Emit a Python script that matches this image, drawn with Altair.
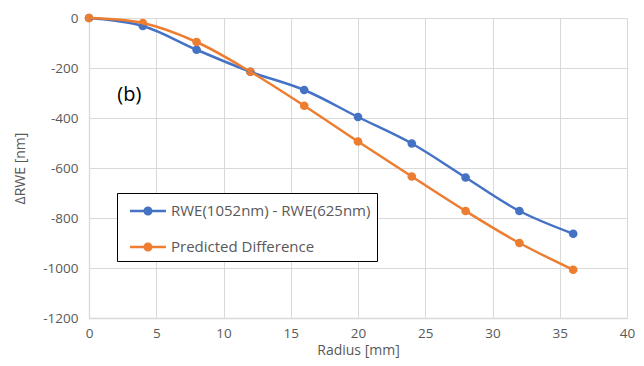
import altair as alt
import pandas as pd

radius = [0, 4, 8, 12, 16, 20, 24, 28, 32, 36]
measured = [0, -32, -127, -215, -288, -396, -502, -638, -772, -863]
predicted = [0, -20, -96, -215, -351, -494, -634, -772, -900, -1007]
series_names = ["RWE(1052nm) - RWE(625nm)", "Predicted Difference"]
colors = ["#4472C4", "#ED7D31"]

rows = []
for r, v in zip(radius, measured):
    rows.append({"Radius": r, "Value": v, "Series": series_names[0]})
for r, v in zip(radius, predicted):
    rows.append({"Radius": r, "Value": v, "Series": series_names[1]})
df = pd.DataFrame(rows)

label_df = pd.DataFrame({"x": [2.1], "y": [-307], "t": ["(b)"]})

FONT = "Open Sans"
GREY = "#595959"

xenc = alt.X("Radius:Q", scale=alt.Scale(domain=[0, 40], nice=False),
             axis=alt.Axis(title="Radius [mm]", values=list(range(0, 45, 5))))
yenc = alt.Y("Value:Q", scale=alt.Scale(domain=[-1200, 0], nice=False),
             axis=alt.Axis(title="ΔRWE [nm]", values=list(range(-1200, 1, 200)),
                           labelExpr="datum.value == 0 ? '0' : '-' + abs(datum.value)"))

scale = alt.Scale(domain=series_names, range=colors)

# legend glyph: line with a dot, shifted right of the symbol slot
legend_path = ("M-0.42,-0.11H2.58V0.11H-0.42Z "
               "M1.46,0A0.38,0.38 0 1,1 0.70,0A0.38,0.38 0 1,1 1.46,0Z")
leg = alt.Legend(title=None, orient="none", legendX=28, legendY=175,
                 symbolType=legend_path, symbolSize=576,
                 symbolStrokeWidth=0, symbolOpacity=1,
                 labelFont=FONT, labelFontSize=15, labelColor=GREY,
                 strokeColor="black", padding=6, rowPadding=16,
                 labelOffset=24, labelLimit=400, fillColor="white")
cenc = alt.Color("Series:N", scale=scale, sort=series_names, legend=leg)

points = alt.Chart(df).mark_point(filled=True, size=75, opacity=1).encode(
    x=xenc, y=yenc, color=cenc)

lines = alt.Chart(df).mark_line(strokeWidth=2.5, interpolate="catmull-rom").encode(
    x=xenc, y=yenc, color=cenc)

txt = alt.Chart(label_df).mark_text(align="left", baseline="middle", fontSize=20,
                                    font=FONT, color="black").encode(
    x=alt.X("x:Q"), y=alt.Y("y:Q"), text="t:N")

chart = alt.layer(points, lines, txt).properties(
    width=538, height=300,
    autosize=alt.AutoSizeParams(type="none"),
    padding={"left": 81, "top": 10, "right": 9, "bottom": 40},
).configure_view(stroke=None).configure_axis(
    gridColor="#d9d9d9", gridWidth=1, domainColor="#d9d9d9", domainWidth=1.3,
    ticks=False, labelFont=FONT, labelFontSize=13.5, labelColor=GREY,
    titleFont=FONT, titleFontSize=14, titleColor=GREY, titleFontWeight="normal",
).configure_axisX(titlePadding=4, labelPadding=8, labelFlush=False
).configure_axisY(titlePadding=15, labelPadding=11)

chart.save("out.html", embed_options={"renderer": "svg", "actions": False})
